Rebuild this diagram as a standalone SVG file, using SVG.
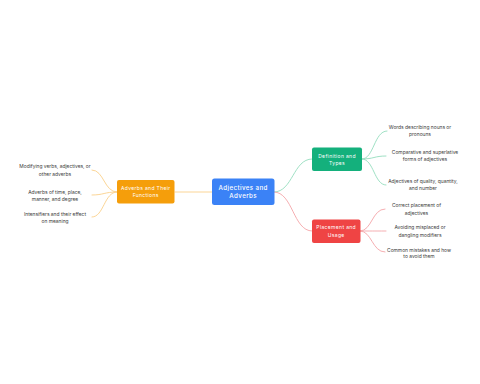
<svg xmlns="http://www.w3.org/2000/svg" width="480" height="384" viewBox="0 0 480 384">
<style>
.bg{fill:#ffffff}
.node text{font-family:"Inter","Liberation Sans",sans-serif;fill:#ffffff;text-anchor:middle;font-weight:400}
.root text{font-size:6.2px;letter-spacing:0.4px;font-weight:500}
.mid text{font-size:5px;letter-spacing:0.35px}
.leaf text{font-family:"Inter","Liberation Sans",sans-serif;fill:#3a3a3a;font-size:4.9px;text-anchor:middle}
.conn path{fill:none;stroke-width:0.9;stroke-linecap:round}
.g{stroke:#94dcbd}
.r{stroke:#f4a5a8}
.o{stroke:#fbd08a}
</style>
<rect class="bg" width="480" height="384"/>
<g id="connectors" class="conn">
<path class="g" d="M274,192 C293,192 293,159 312,159"/>
<path class="r" d="M274,192 C293,192 293,231 312,231"/>
<path class="o" d="M212,192 L175,192"/>
<path class="o" d="M117,192 C104,192 104,170 92,170"/>
<path class="o" d="M117,192 C104,192 104,195 92,195"/>
<path class="o" d="M117,192 C104,192 104,217 92,217"/>
<path class="g" d="M362,159 C374,159 374,131 387,131"/>
<path class="g" d="M362,159 C374,159 374,156 386,156"/>
<path class="g" d="M362,159 C374,159 374,185 386,185"/>
<path class="r" d="M360,231 C372,231 372,209 385,209"/>
<path class="r" d="M360,231 C372,231 372,231 386,231"/>
<path class="r" d="M360,231 C372,231 372,252 385,252"/>
</g>
<g id="root" class="node root">
<rect x="212" y="178.5" width="62.5" height="26.5" rx="2.5" fill="#3b82f6"/>
<text x="243.2" y="189.8">Adjectives and</text>
<text x="243.2" y="198.2">Adverbs</text>
</g>
<g id="definition" class="node mid">
<rect x="312" y="147.5" width="50" height="23.5" rx="2" fill="#14b07c"/>
<text x="337" y="157.7">Definition and</text>
<text x="337" y="164.5">Types</text>
</g>
<g id="placement" class="node mid">
<rect x="312" y="219.5" width="48.5" height="23.5" rx="2" fill="#ef4444"/>
<text x="336.2" y="229.4">Placement and</text>
<text x="336.2" y="236.9">Usage</text>
</g>
<g id="adverbs" class="node mid">
<rect x="117" y="180" width="57.5" height="23.5" rx="2" fill="#f59e0b"/>
<text x="145.7" y="190.3">Adverbs and Their</text>
<text x="145.7" y="197.4">Functions</text>
</g>
<g id="leaf-modifying" class="leaf">
<text x="55" y="168.4">Modifying verbs, adjectives, or</text>
<text x="55" y="175.6">other adverbs</text>
</g>
<g id="leaf-time" class="leaf">
<text x="55" y="194">Adverbs of time, place,</text>
<text x="55" y="200.7">manner, and degree</text>
</g>
<g id="leaf-intensifiers" class="leaf">
<text x="55" y="215.6">Intensifiers and their effect</text>
<text x="55" y="222.7">on meaning</text>
</g>
<g id="leaf-words" class="leaf">
<text x="420" y="129.4">Words describing nouns or</text>
<text x="420" y="136">pronouns</text>
</g>
<g id="leaf-comparative" class="leaf">
<text x="425" y="154.4">Comparative and superlative</text>
<text x="425" y="161">forms of adjectives</text>
</g>
<g id="leaf-quality" class="leaf">
<text x="423" y="182.7">Adjectives of quality, quantity,</text>
<text x="423" y="190">and number</text>
</g>
<g id="leaf-correct" class="leaf">
<text x="416.5" y="207.4">Correct placement of</text>
<text x="416.5" y="215">adjectives</text>
</g>
<g id="leaf-avoiding" class="leaf">
<text x="420" y="229.4">Avoiding misplaced or</text>
<text x="420" y="236.7">dangling modifiers</text>
</g>
<g id="leaf-common" class="leaf">
<text x="419" y="251.7">Common mistakes and how</text>
<text x="419" y="258.4">to avoid them</text>
</g>
</svg>
